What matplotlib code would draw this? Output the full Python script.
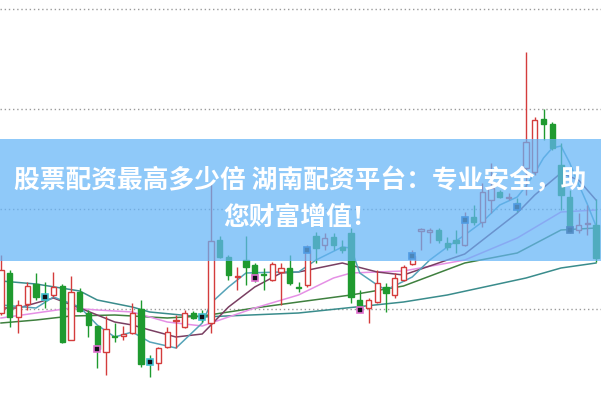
import matplotlib
matplotlib.use("Agg")
import matplotlib.pyplot as plt
from matplotlib.patches import Rectangle

# OHLC (price units)
opens = [2.96, 3.36, 2.92, 3.05, 3.25, 3.14, 3.14, 3.23, 2.69, 3.17,
         2.96, 2.83, 2.57, 2.73, 2.73, 2.76, 3.00, 2.49, 2.46, 2.62,
         2.88, 2.82, 2.96, 2.94, 2.86, 3.69, 3.52, 3.32, 3.49, 3.44,
         3.35, 3.29, 3.37, 3.41, 3.22, 3.24, 3.73, 3.64, 3.72, 3.62,
         3.76, 3.09, 3.01, 3.07, 3.22, 3.14, 3.29, 3.45, 3.78, 3.77,
         3.79, 3.66, 3.69, 3.64, 3.92, 3.87, 4.09, 4.17, 4.11, 4.06,
         4.41, 4.37, 4.90, 4.85, 4.44, 4.12, 3.79, 3.85, 3.84]
closes = [3.39, 2.92, 3.04, 3.23, 3.12, 3.12, 3.22, 2.67, 3.17, 2.98,
          2.84, 2.60, 2.80, 2.72, 2.75, 2.96, 2.45, 2.47, 2.61, 2.77,
          2.89, 2.96, 2.91, 2.92, 3.68, 3.52, 3.34, 3.33, 3.42, 3.31,
          3.34, 3.45, 3.41, 3.26, 3.21, 3.59, 3.61, 3.71, 3.64, 3.59,
          3.12, 2.99, 3.09, 3.26, 3.16, 3.31, 3.42, 3.53, 3.80, 3.79,
          3.69, 3.62, 3.66, 3.89, 3.87, 4.17, 4.21, 4.12, 4.12, 4.02,
          4.67, 4.89, 4.85, 4.61, 4.14, 3.79, 3.84, 3.86, 3.51]
highs = [3.54, 3.39, 3.09, 3.27, 3.36, 3.27, 3.37, 3.25, 3.33, 3.21,
         2.99, 2.83, 2.93, 2.86, 2.83, 3.06, 3.09, 2.54, 2.62, 2.82,
         2.94, 2.99, 2.98, 2.99, 4.27, 3.73, 3.54, 3.42, 3.73, 3.46,
         3.41, 3.47, 3.46, 3.54, 3.27, 3.64, 3.77, 3.76, 3.76, 3.69,
         3.81, 3.19, 3.11, 3.39, 3.26, 3.36, 3.44, 3.59, 3.81, 3.81,
         3.81, 3.72, 3.79, 3.97, 4.04, 4.26, 4.46, 4.19, 4.16, 4.11,
         5.57, 4.92, 5.00, 4.87, 4.66, 4.19, 3.96, 4.04, 4.10]
lows = [2.94, 2.82, 2.76, 2.99, 3.09, 3.01, 3.12, 2.66, 2.69, 2.97,
        2.72, 2.41, 2.34, 2.67, 2.69, 2.75, 2.42, 2.32, 2.39, 2.61,
        2.61, 2.81, 2.90, 2.87, 2.76, 3.51, 3.29, 3.19, 3.24, 3.27,
        3.19, 3.28, 3.04, 3.24, 3.17, 3.22, 3.46, 3.59, 3.59, 3.56,
        3.06, 2.97, 2.86, 3.06, 2.97, 3.11, 3.28, 3.44, 3.59, 3.66,
        3.66, 3.59, 3.56, 3.63, 3.84, 3.82, 3.96, 4.11, 4.09, 3.97,
        4.14, 4.34, 4.69, 4.59, 3.99, 3.76, 3.76, 3.74, 3.47]

# signal markers (candle index, edge colour)
mark_idx = [5, 11, 17, 23, 29, 35, 41, 47, 53, 59, 65]
mark_edge = ['#40c0d0', '#e070d0', '#40c0d0', '#40c0d0', '#e070d0', '#2060b0',
             '#e070d0', '#2060b0', '#2060b0', '#2060b0', '#303050']

# moving averages (index, price)
ma5_x = [0, 4, 6, 9, 11, 13, 15, 17, 20, 23, 24, 26, 28, 32, 34, 36, 39, 40, 41, 43,
         44, 47, 49, 51, 53, 55, 57, 59, 60, 61, 62, 63, 64, 65, 66, 67, 68]
ma5_y = [3.04, 3.01, 3.12, 3.02, 2.84, 2.72, 2.77, 2.67, 2.61, 2.86, 3.06, 3.22, 3.36,
         3.37, 3.37, 3.49, 3.62, 3.61, 3.36, 3.24, 3.19, 3.32, 3.49, 3.62, 3.74, 3.87,
         4.04, 4.12, 4.23, 4.36, 4.51, 4.61, 4.63, 4.46, 4.25, 4.05, 3.83]
ma10_x = [0, 2, 6, 9, 13, 15, 17, 20, 23, 26, 29, 32, 34, 39, 43, 46, 53, 59, 61, 64, 66, 68]
ma10_y = [3.01, 3.01, 3.11, 3.01, 2.87, 2.84, 2.79, 2.72, 2.75, 3.02, 3.22, 3.36, 3.37,
          3.46, 3.37, 3.34, 3.55, 3.96, 4.14, 4.36, 4.29, 4.09]
ma20_x = [0, 8, 11, 15, 19, 23, 29, 34, 38, 40, 46, 53, 59, 64, 68]
ma20_y = [2.91, 3.01, 2.99, 2.97, 2.87, 2.83, 3.01, 3.14, 3.31, 3.36, 3.38, 3.49, 3.71, 3.97, 3.99]
ma30_x = [0, 4, 8, 13, 19, 23, 29, 34, 40, 46, 53, 59, 64, 68]
ma30_y = [2.86, 2.89, 2.93, 2.94, 2.91, 2.93, 3.01, 3.07, 3.14, 3.23, 3.46, 3.56, 3.79, 3.81]
ma60_x = [0, 4, 9, 11, 15, 17, 23, 34, 46, 51, 60, 64, 68]
ma60_y = [3.28, 3.25, 3.18, 3.09, 3.02, 2.97, 2.92, 2.96, 3.07, 3.14, 3.31, 3.41, 3.46]

grid_levels = [3, 4, 5, 6]
title1 = "股票配资最高多少倍 湖南配资平台：专业安全，助"
title2 = "您财富增值！"

fig = plt.figure(figsize=(6.01, 4.0), dpi=100)
ax = fig.add_axes([0, 0, 1, 1])
ax.set_xlim(-0.114, 68.571)
ax.set_ylim(2.09, 6.09)
ax.axis('off')

for g in grid_levels:
    ax.axhline(g, color='#9a9a9a', lw=1, ls=(0, (1, 2)), zorder=1)

red, green = '#d43c3c', '#1f9a2f'
for i in range(len(opens)):
    o, c, h, l = opens[i], closes[i], highs[i], lows[i]
    col = red if c >= o else green
    ax.vlines(i, l, h, color=col, lw=1, zorder=3)
    bot = min(o, c)
    hgt = max(abs(c - o), 0.012)
    ax.add_patch(Rectangle((i - 0.3, bot), 0.6, hgt, facecolor='white' if c >= o else col,
                           edgecolor=col, lw=1, zorder=4))

ax.plot(ma60_x, ma60_y, color='#3a8c8c', lw=1.1, zorder=2)
ax.plot(ma30_x, ma30_y, color='#3f803f', lw=1.1, zorder=2)
ax.plot(ma20_x, ma20_y, color='#e590e5', lw=1.1, zorder=2)
ax.plot(ma10_x, ma10_y, color='#7a3f62', lw=1.1, zorder=2)
ax.plot(ma5_x, ma5_y, color='#55a3b8', lw=1.1, zorder=2)

for k, i in enumerate(mark_idx):
    ax.plot(i, closes[i], marker='s', ms=5, mfc='#111118', mec=mark_edge[k], mew=1.2, zorder=5)

# translucent banner
ax.axhspan(3.48, 4.70, color=(100 / 255, 180 / 255, 248 / 255), alpha=0.72, lw=0, zorder=10)

fam = ['Noto Sans CJK SC', 'DejaVu Sans']
fig.text(0.5, 1 - 181 / 400, title1, ha='center', va='center', fontsize=18.5,
         fontweight='bold', color='white', family=fam, zorder=20)
fig.text(0.5, 1 - 217 / 400, title2, ha='center', va='center', fontsize=18.5,
         fontweight='bold', color='white', family=fam, zorder=20)

fig.savefig('out.png', dpi=100)
